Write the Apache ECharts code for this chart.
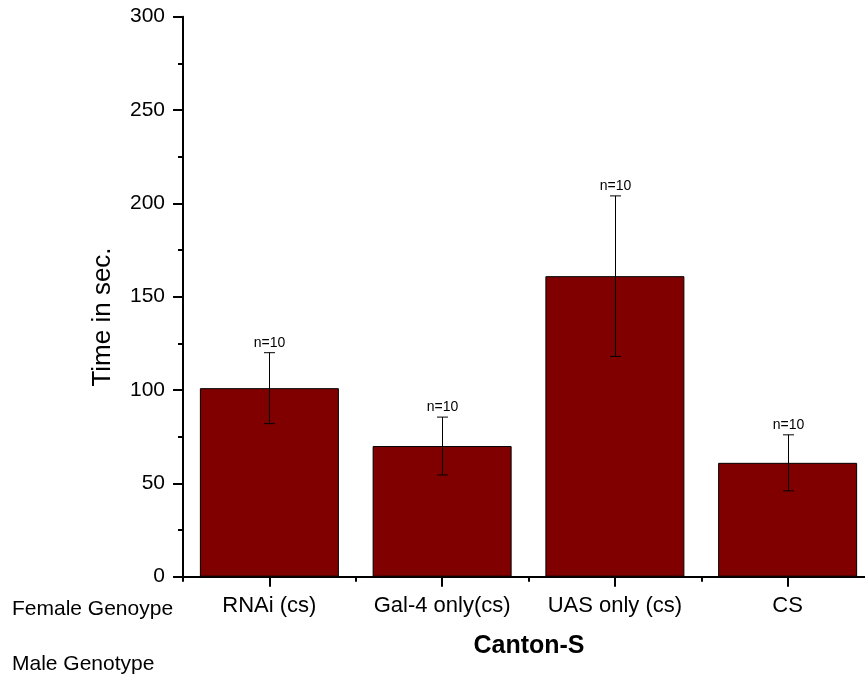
<!DOCTYPE html>
<html>
<head>
<meta charset="utf-8">
<script src="https://cdn.jsdelivr.net/npm/echarts@6/dist/echarts.min.js"></script>
<style>html,body{margin:0;padding:0;background:#fff;overflow:hidden;width:865px;height:681px;}#c{width:874px;height:681px;}</style>
</head>
<body>
<div id="c"></div>
<script>
const categories = ['RNAi (cs)', 'Gal-4 only(cs)', 'UAS only (cs)', 'CS'];
const means = [101, 70, 161, 61];
const errors = [19, 15.5, 43, 15];
const nLabels = ['n=10', 'n=10', 'n=10', 'n=10'];
const yTicks = { min: 0, max: 300, interval: 50 };
const femaleLabel = 'Female Genoype';
const maleLabel = 'Male Genotype';
const groupLabel = 'Canton-S';
const yName = 'Time in sec.';

const FONT = '"Liberation Sans", Arial, sans-serif';
const chart = echarts.init(document.getElementById('c'), null, { renderer: 'canvas' });

const errData = means.map((m, i) => [i, m - errors[i], m + errors[i], nLabels[i]]);

const axisBlack = { color: '#000', width: 2 };

chart.setOption({
  animation: false,
  backgroundColor: '#fff',
  grid: { left: 183, top: 16.7, right: 0, bottom: 104.3, containLabel: false },
  xAxis: [
    {
      type: 'category', data: categories, position: 'bottom',
      axisLine: { show: true, lineStyle: axisBlack },
      axisTick: { show: true, alignWithLabel: true, length: 10, lineStyle: axisBlack },
      axisLabel: { color: '#000', fontSize: 22, fontFamily: FONT, margin: 18, interval: 0 },
      splitLine: { show: false }
    },
    {
      type: 'category', data: categories, position: 'bottom',
      axisLine: { show: false },
      axisTick: { show: true, length: 5, lineStyle: axisBlack },
      axisLabel: { show: false },
      splitLine: { show: false }
    }
  ],
  yAxis: {
    type: 'value', min: yTicks.min, max: yTicks.max, interval: yTicks.interval,
    axisLine: { show: true, lineStyle: axisBlack },
    axisTick: { show: true, length: 10, lineStyle: axisBlack },
    minorTick: { show: true, splitNumber: 2, length: 5, lineStyle: axisBlack },
    axisLabel: { color: '#000', fontSize: 21, fontFamily: FONT, margin: 18 },
    splitLine: { show: false }
  },
  series: [
    {
      type: 'bar', data: means, barWidth: 139, xAxisIndex: 0,
      itemStyle: { color: '#800000', borderColor: '#000', borderWidth: 1 }
    },
    {
      type: 'custom', xAxisIndex: 0, data: errData, z: 10,
      renderItem: function (params, api) {
        const i = api.value(0);
        const lo = api.coord([i, api.value(1)]);
        const hi = api.coord([i, api.value(2)]);
        const x = Math.round(lo[0]) + 0.5;
        const cap = 5.5;
        const st = { stroke: '#000', lineWidth: 1 };
        return {
          type: 'group',
          children: [
            { type: 'line', shape: { x1: x, y1: hi[1], x2: x, y2: lo[1] }, style: st },
            { type: 'line', shape: { x1: x - cap, y1: hi[1], x2: x + cap, y2: hi[1] }, style: st },
            { type: 'line', shape: { x1: x - cap, y1: lo[1], x2: x + cap, y2: lo[1] }, style: st },
            { type: 'text', x: x, y: hi[1] - 3,
              style: { text: nLabels[i], fill: '#000', font: '14px ' + FONT, align: 'center', verticalAlign: 'bottom' } }
          ]
        };
      }
    }
  ],
  graphic: [
    { type: 'text', left: 12, top: 599, style: { text: femaleLabel, fill: '#000', font: '21px ' + FONT } },
    { type: 'text', left: 12, top: 654, style: { text: maleLabel, fill: '#000', font: '21px ' + FONT } },
    { type: 'text', x: 529, y: 646, style: { text: groupLabel, fill: '#000', font: 'bold 25px ' + FONT, align: 'center', verticalAlign: 'middle' } },
    { type: 'text', x: 103, y: 317, rotation: Math.PI / 2, style: { text: yName, fill: '#000', font: '26px ' + FONT, align: 'center', verticalAlign: 'middle' } }
  ]
});
</script>
</body>
</html>
